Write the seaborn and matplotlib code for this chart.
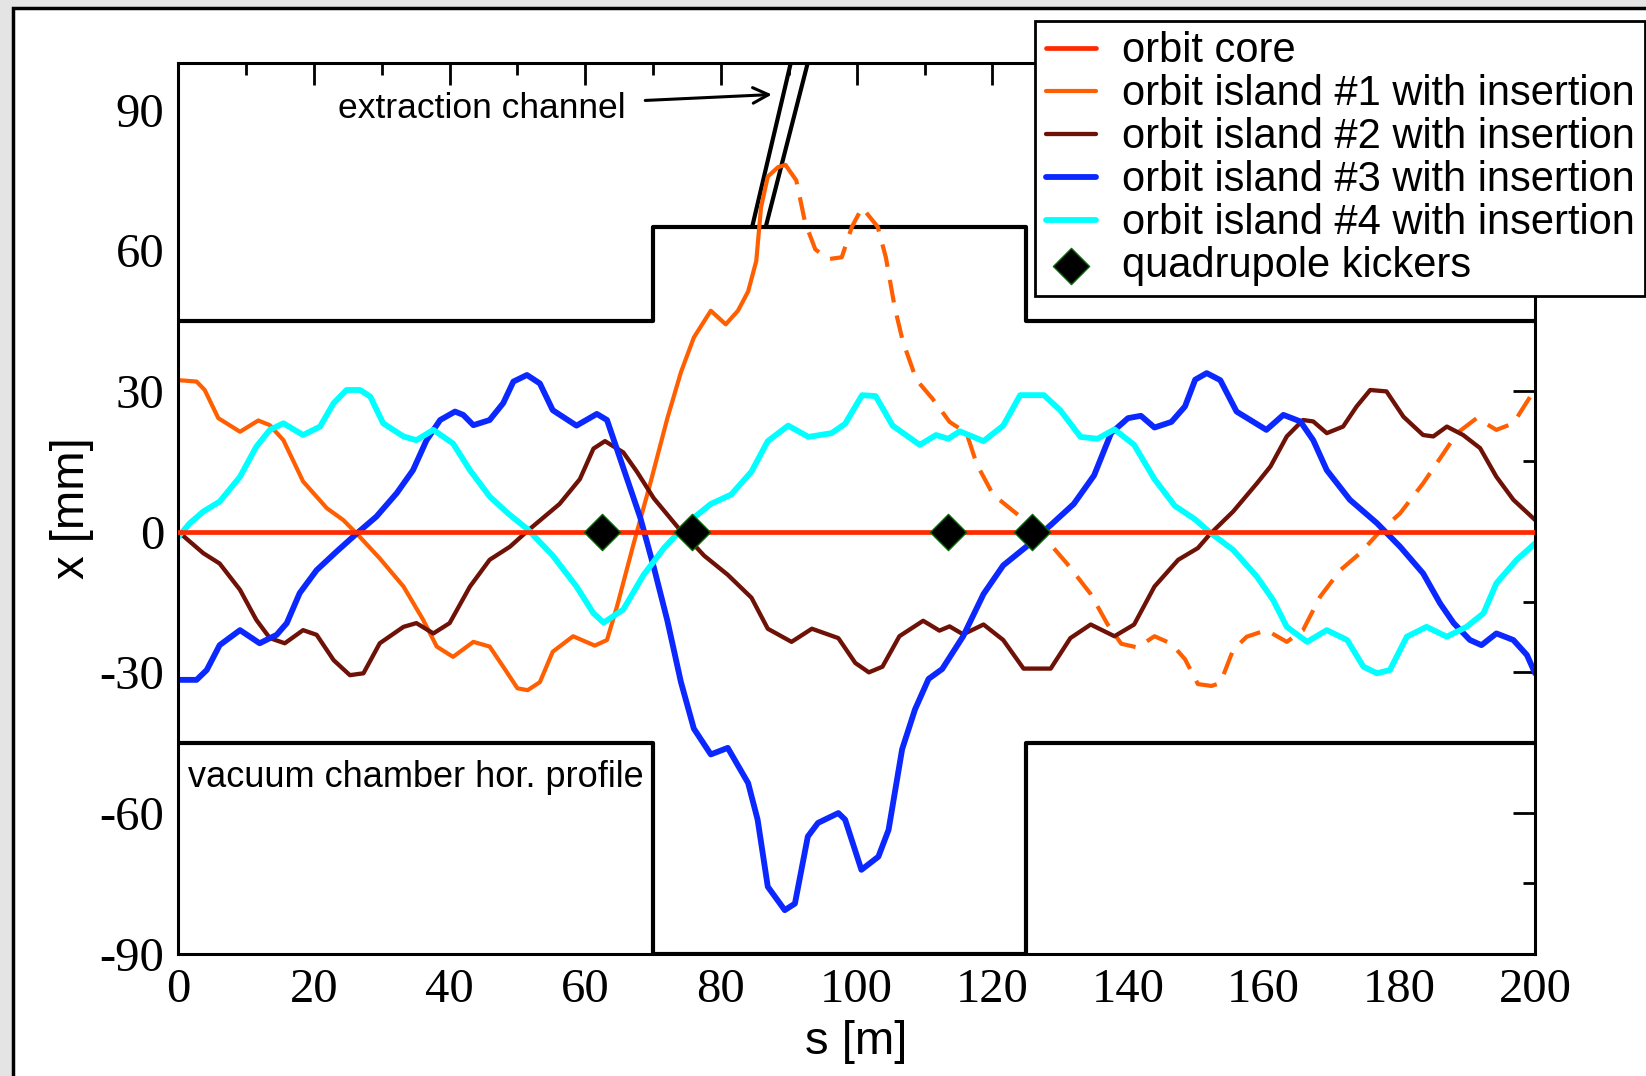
import numpy as np
import pandas as pd
import seaborn as sns
import matplotlib.pyplot as plt
from matplotlib.patches import Rectangle

# Orbit data: s [m], x [mm]
core_s = [0, 200]
core_x = [0, 0]

isl1_s = [0, 2.7, 3.9, 5.9, 9.1, 11.8, 13.5, 15.5, 18.4, 21.9, 24.3, 26.3, 29.7, 33.2, 36.1,
          38.1, 40.5, 43.5, 45.9, 47.9, 50.0, 51.5, 53.3, 55.2, 58.2, 61.4, 63.2, 64.7, 67.1,
          69.6, 72.1, 74.1, 76.0, 78.5, 80.7, 82.5, 84.0, 85.2, 85.9, 86.9, 88.4, 89.5]
isl1_x = [32.3, 32.0, 30.2, 24.2, 21.3, 23.7, 22.7, 19.5, 10.7, 5.0, 2.5, -0.4, -5.7, -11.7, -18.8,
          -24.5, -26.7, -23.5, -24.5, -28.8, -33.4, -33.8, -32.1, -25.6, -22.3, -24.3, -23.1, -15.8, -2.7,
          10.4, 24.2, 34.0, 41.4, 47.1, 44.2, 47.1, 51.2, 57.7, 69.1, 75.7, 77.7, 78.2]

# island #1 continued (dashed part)
isl1d_s = [89.5, 91.1, 92.4, 93.9, 95.8, 97.8, 99.3, 100.8, 103.1, 104.3, 105.6, 106.8, 108.8,
           111.2, 113.7, 116.2, 117.7, 120.1, 123.6, 127.6, 131.0, 134.5, 137.0, 139.0, 141.4,
           143.9, 146.4, 148.4, 150.3, 152.3, 153.6, 155.5, 157.5, 160.4, 163.4, 165.8, 168.3,
           171.3, 174.2, 177.1, 180.1, 183.5, 186.5, 188.5, 191.4, 194.3, 196.8, 199.3, 200]
isl1d_x = [78.2, 74.9, 65.9, 60.2, 58.1, 58.5, 65.0, 69.1, 65.0, 58.5, 47.9, 40.6, 32.4,
           28.3, 23.4, 21.0, 14.4, 7.9, 3.8, -1.1, -6.8, -13.3, -19.8, -23.9, -24.7,
           -22.3, -23.9, -27.2, -32.5, -32.9, -32.3, -25.2, -22.4, -21.0, -23.5, -21.0, -13.9,
           -8.2, -4.6, 0.0, 3.9, 10.3, 16.7, 21.0, 24.2, 21.7, 23.1, 28.8, 30.0]

isl2_s = [0, 3.7, 6.1, 9.1, 11.5, 13.5, 15.7, 18.4, 20.4, 22.9, 25.3, 27.3, 29.7, 33.2, 35.1,
          37.6, 40.0, 43.0, 45.9, 48.9, 51.6, 56.2, 59.2, 61.2, 62.9, 65.6, 67.6, 70.1, 73.6,
          77.5, 81.0, 84.5, 86.9, 90.4, 93.4, 97.3, 99.8, 101.8, 103.8, 106.3, 109.8, 112.2,
          113.7, 115.7, 118.7, 121.6, 124.6, 128.6, 131.5, 134.5, 138.0, 140.9, 143.9, 147.4,
          150.3, 152.1, 155.5, 159.0, 161.0, 163.4, 165.8, 167.3, 169.3, 171.7, 173.7, 175.7,
          178.1, 180.6, 183.5, 185.0, 187.0, 189.4, 191.9, 194.3, 196.8, 200]
isl2_x = [0, -4.6, -6.8, -12.4, -18.8, -22.7, -23.8, -21.0, -22.0, -27.4, -30.6, -30.2, -23.8, -20.3, -19.5,
          -21.7, -19.5, -11.7, -6.0, -3.2, 0.3, 5.9, 11.2, 17.7, 19.3, 16.9, 12.8, 7.1, 1.0,
          -5.1, -9.2, -14.1, -20.7, -23.5, -20.7, -22.7, -28.0, -30.0, -28.8, -22.3, -19.0, -21.1,
          -20.2, -21.9, -19.8, -23.1, -29.2, -29.2, -22.7, -19.8, -22.3, -19.8, -11.7, -6.0,
          -3.5, -0.5, 4.3, 10.3, 13.9, 20.3, 23.8, 23.5, 21.0, 22.4, 26.7, 30.2,
          29.9, 24.5, 20.6, 20.3, 22.4, 20.6, 17.8, 11.7, 6.8, 2.5]

isl3_s = [0, 2.7, 4.2, 6.1, 9.1, 12.0, 14.5, 16.0, 17.9, 20.4, 23.3, 26.3, 29.2, 32.2, 34.6,
          36.6, 38.6, 40.8, 42.0, 43.5, 45.9, 47.9, 49.4, 51.4, 53.3, 55.2, 58.7, 61.7, 63.2,
          65.6, 68.1, 70.1, 72.1, 74.1, 76.0, 78.5, 81.0, 84.0, 85.4, 86.9, 89.4, 90.9, 92.8,
          94.3, 97.3, 98.3, 100.7, 103.2, 104.7, 106.7, 108.6, 110.6, 112.6, 115.7, 118.7,
          121.6, 125.1, 128.6, 132.0, 135.0, 137.5, 140.0, 141.9, 143.9, 146.4, 148.4, 149.9,
          151.6, 153.6, 156.0, 160.4, 162.9, 165.4, 167.3, 169.3, 172.7, 176.7, 180.1, 183.5,
          186.0, 188.0, 190.4, 192.1, 194.3, 196.8, 198.8, 200]
isl3_x = [-31.6, -31.6, -29.5, -24.2, -21.0, -23.8, -22.0, -19.5, -13.1, -8.2, -4.3, -0.4, 3.2, 8.2, 13.1,
          19.5, 23.8, 25.6, 24.9, 22.7, 23.8, 27.4, 32.0, 33.4, 31.6, 25.9, 22.6, 25.1, 23.8,
          13.6, 3.0, -7.6, -19.0, -32.1, -42.0, -47.5, -46.1, -53.6, -61.4, -75.7, -80.7, -79.3, -65.0,
          -62.1, -60.0, -61.4, -72.1, -69.3, -63.6, -46.4, -37.9, -31.4, -29.3, -22.3, -13.3,
          -7.2, -3.1, 1.4, 5.9, 12.0, 21.0, 24.2, 24.7, 22.2, 23.4, 26.7, 32.4,
          33.8, 32.3, 25.6, 21.7, 24.9, 23.5, 19.5, 13.1, 6.8, 1.8, -3.2, -8.9,
          -15.3, -19.5, -23.1, -24.2, -21.7, -23.1, -26.3, -30.2]

isl4_s = [0, 1.7, 3.7, 6.1, 9.1, 11.5, 13.5, 15.5, 18.4, 20.9, 22.9, 24.8, 26.8, 28.3, 30.2,
          33.2, 35.1, 37.6, 40.5, 43.0, 45.9, 48.6, 51.5, 55.2, 58.7, 61.2, 62.7, 65.6, 68.6,
          71.6, 75.0, 78.5, 81.5, 84.5, 86.9, 89.9, 92.9, 96.3, 98.3, 100.8, 102.8, 105.3,
          109.3, 111.7, 113.5, 115.2, 118.7, 121.6, 124.1, 127.6, 130.0, 133.0, 135.5, 138.0,
          140.9, 143.9, 146.9, 149.9, 152.1, 155.5, 159.0, 161.4, 163.4, 166.4, 169.3, 172.3,
          174.7, 176.7, 178.6, 181.1, 184.0, 187.0, 189.9, 192.4, 194.3, 197.3, 200]
isl4_x = [-1.1, 1.8, 4.3, 6.4, 11.7, 18.1, 21.7, 23.1, 20.6, 22.4, 27.4, 30.2, 30.2, 28.8, 23.1,
          20.3, 19.5, 21.7, 18.8, 13.1, 7.5, 3.9, 0.5, -5.1, -11.7, -17.4, -19.4, -16.6, -9.2,
          -3.5, 1.8, 5.9, 7.9, 12.8, 19.3, 22.6, 20.2, 21.0, 23.0, 29.1, 28.9, 22.6,
          18.5, 20.6, 19.8, 21.4, 19.3, 22.6, 29.1, 29.1, 25.9, 20.2, 19.8, 21.8,
          18.5, 11.2, 5.5, 2.6, -0.2, -3.9, -9.6, -14.6, -20.3, -23.5, -21.0, -23.1,
          -28.8, -30.2, -29.5, -22.4, -20.3, -22.4, -20.3, -17.4, -11.0, -6.0, -2.5]

kicker_s = [62.5, 75.8, 113.5, 125.8]
kicker_x = [0, 0, 0, 0]

# vacuum chamber horizontal profile
wall_s = [0, 70, 70, 125, 125, 200]
wall_top = [45, 45, 65, 65, 45, 45]
wall_bot = [-45, -45, -90, -90, -45, -45]
chan_left_s = [84.6, 90.3]
chan_right_s = [86.6, 92.8]
chan_x = [65, 100]

x_ticks = [0, 20, 40, 60, 80, 100, 120, 140, 160, 180, 200]
y_ticks = [-90, -60, -30, 0, 30, 60, 90]

sns.set_style('white')
plt.rcParams['font.family'] = ['Liberation Sans', 'DejaVu Sans']
plt.rcParams['text.color'] = 'black'
plt.rcParams['axes.labelcolor'] = 'black'
plt.rcParams['xtick.color'] = 'black'
plt.rcParams['ytick.color'] = 'black'

fig = plt.figure(figsize=(16.46, 10.76), dpi=100, facecolor='#e4e4e4')
fig.add_artist(Rectangle((13 / 1646, -0.05), 1.1, 1.05 - 8 / 1076, transform=fig.transFigure,
                         facecolor='white', edgecolor='black', lw=2.5, zorder=-1))
ax = fig.add_axes([0.1083, 0.1136, 0.8243, 0.8282])

# chamber walls and extraction channel
ax.plot(wall_s, wall_top, color='black', lw=3, zorder=1)
ax.plot(wall_s, wall_bot, color='black', lw=3, zorder=1)
ax.plot(chan_left_s, chan_x, color='black', lw=3, zorder=1)
ax.plot(chan_right_s, chan_x, color='black', lw=3, zorder=1)

sns.lineplot(x=core_s, y=core_x, ax=ax, color='#ff2a00', lw=3.4, label='orbit core', zorder=3)
sns.lineplot(x=isl1_s, y=isl1_x, ax=ax, color='#ff5f00', lw=3.0, sort=False,
             label='orbit island #1 with insertion', zorder=2)
sns.lineplot(x=isl1d_s, y=isl1d_x, ax=ax, color='#ff5f00', lw=3.0, sort=False,
             dashes=(5.5, 3.2), zorder=2)
sns.lineplot(x=isl2_s, y=isl2_x, ax=ax, color='#6e1208', lw=3.1, sort=False,
             label='orbit island #2 with insertion', zorder=2)
sns.lineplot(x=isl3_s, y=isl3_x, ax=ax, color='#0a28ff', lw=4.2, sort=False,
             label='orbit island #3 with insertion', zorder=2)
sns.lineplot(x=isl4_s, y=isl4_x, ax=ax, color='#00ffff', lw=4.2, sort=False,
             label='orbit island #4 with insertion', zorder=2)
sns.scatterplot(x=kicker_s, y=kicker_x, ax=ax, marker='D', s=340, color='black',
                edgecolor='#0b6a0b', linewidth=1, label='quadrupole kickers', zorder=5)

ax.set_xlim(0, 200)
ax.set_ylim(-90, 100)
ax.set_xticks(x_ticks)
ax.set_xticklabels([str(t) for t in x_ticks], fontfamily='Liberation Serif')
ax.set_yticks(y_ticks)
ax.set_yticklabels([str(t) for t in y_ticks], fontfamily='Liberation Serif')
ax.set_xticks(np.arange(10, 200, 20), minor=True)
ax.set_yticks([-75, -45, -15, 15, 45, 75], minor=True)
ax.tick_params(which='both', direction='in', top=True, right=True, width=2, colors='black')
ax.tick_params(which='major', length=16, labelsize=35, pad=10)
ax.tick_params(which='minor', length=8.5)
for sp in ax.spines.values():
    sp.set_linewidth(2.2)
    sp.set_color('black')

ax.set_xlabel('s [m]', fontsize=34, labelpad=6)
ax.set_ylabel('x [mm]', fontsize=34, labelpad=4)

ax.annotate('extraction channel', xy=(87.5, 93.2), xytext=(23.5, 90.3),
            fontsize=25.5, va='center', ha='left',
            arrowprops=dict(arrowstyle='->', lw=2.2, color='black', mutation_scale=28,
                            shrinkA=12, shrinkB=0))
ax.text(1.5, -52.5, 'vacuum chamber hor. profile', fontsize=26, va='center', ha='left')

leg = ax.legend(loc='upper right', bbox_to_anchor=(1645 / 1646, 1 - 21 / 1076),
                bbox_transform=fig.transFigure, borderaxespad=0, fontsize=30,
                handlelength=1.2, handletextpad=0.62, labelspacing=0.07, borderpad=0.25,
                fancybox=False, framealpha=1, edgecolor='black')
leg.get_frame().set_linewidth(2)
leg.set_zorder(10)

fig.savefig('out.png', dpi=100, facecolor=fig.get_facecolor())
